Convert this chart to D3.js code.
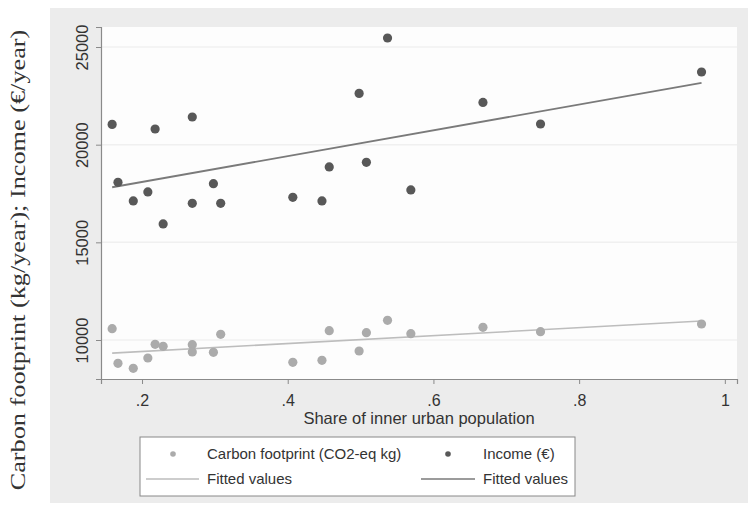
<!DOCTYPE html>
<html><head><meta charset="utf-8">
<script src="https://cdn.jsdelivr.net/npm/d3@7"></script>
<style>html,body{margin:0;padding:0;background:#fff;}svg{display:block;}</style>
</head><body><svg id="c" width="748" height="514"></svg>
<script>
const shareX = [0.159,0.167,0.188,0.208,0.218,0.229,0.269,0.269,0.298,0.308,0.407,0.447,0.457,0.498,0.508,0.537,0.569,0.668,0.747,0.968];
const carbon = [10578,8807,8552,9079,9778,9677,9760,9386,9370,10290,8859,8960,10476,9437,10374,11008,10324,10650,10425,10819];
const income = [21039,18070,17118,17579,20803,15942,21417,16996,18004,16996,17303,17118,18859,22626,19094,25461,17682,22165,21059,23721];
const xTicks = [0.2,0.4,0.6,0.8,1];
const yTicks = [10000,15000,20000,25000];
const legendLabels = ["Carbon footprint (CO2-eq kg)","Income (€)","Fitted values","Fitted values"];
const xTitle = "Share of inner urban population";
const yTitle = "Carbon footprint (kg/year); Income (€/year)";

const svg = d3.select("#c");
const L=101, R=737, T=27, B=379;
svg.append("rect").attr("x",50).attr("y",8).attr("width",698).attr("height",495).attr("fill","#ececec");
svg.append("rect").attr("x",L).attr("y",T).attr("width",R-L).attr("height",B-T).attr("fill","#fdfdfd");

const x = d3.scaleLinear().domain([0.1437,1.0167]).range([L,R]);
const y = d3.scaleLinear().domain([8004,26024]).range([B,T]);

// gridlines
svg.append("g").selectAll("line").data(yTicks).join("line")
  .attr("x1",L).attr("x2",R).attr("y1",d=>y(d)).attr("y2",d=>y(d))
  .attr("stroke","#f0f0f0").attr("stroke-width",1.5);

// axes
const ax = svg.append("g").attr("transform",`translate(0,${B})`)
  .call(d3.axisBottom(x).tickValues(xTicks).tickSize(5).tickPadding(11)
  .tickFormat(d=> d===1 ? "1" : d3.format(".1f")(d).replace(/^0/,"")));
const ay = svg.append("g").attr("transform",`translate(${L},0)`)
  .call(d3.axisLeft(y).tickValues(yTicks).tickSize(5).tickFormat(d3.format("d")));
[ax,ay].forEach(a=>{
  a.select(".domain").attr("stroke","#8a8a8a").attr("stroke-width",1.2);
  a.selectAll(".tick line").attr("stroke","#8a8a8a");
  a.selectAll("text").attr("fill","#333").style("font-family","'Liberation Sans',Arial,sans-serif").style("font-size","16px");
});
ay.selectAll(".tick text").each(function(){
  d3.select(this).attr("transform","translate(-19,0) rotate(-90)").attr("x",0).attr("y",0)
    .attr("text-anchor","middle").attr("dy","0.35em").style("font-size","16.5px");
});

// fits
function ols(xs, ys){
  const mx=d3.mean(xs), my=d3.mean(ys);
  let sxy=0,sxx=0; xs.forEach((v,i)=>{sxy+=(v-mx)*(ys[i]-my); sxx+=(v-mx)*(v-mx);});
  const b=sxy/sxx, a=my-b*mx;
  const [x0,x1]=d3.extent(xs);
  return [[x0,a+b*x0],[x1,a+b*x1]];
}
const line = d3.line().x(d=>x(d[0])).y(d=>y(d[1]));
svg.append("path").attr("d",line(ols(shareX,carbon))).attr("stroke","#bdbdbd").attr("stroke-width",1.6).attr("fill","none");
svg.append("path").attr("d",line(ols(shareX,income))).attr("stroke","#7a7a7a").attr("stroke-width",1.8).attr("fill","none");

// points
svg.append("g").selectAll("circle").data(shareX).join("circle")
  .attr("cx",d=>x(d)).attr("cy",(d,i)=>y(carbon[i])).attr("r",4.6).attr("fill","#ababab");
svg.append("g").selectAll("circle").data(shareX).join("circle")
  .attr("cx",d=>x(d)).attr("cy",(d,i)=>y(income[i])).attr("r",4.6).attr("fill","#585858");

// titles
svg.append("text").attr("x",419).attr("y",424).attr("text-anchor","middle")
  .style("font-family","'Liberation Sans',Arial,sans-serif").style("font-size","16.5px").attr("fill","#333").text(xTitle);
svg.append("text").attr("transform","translate(18,260) rotate(-90) scale(1.25,1)").attr("text-anchor","middle").attr("dy","0.33em")
  .style("font-family","'Liberation Serif','Times New Roman',serif").style("font-size","21px").attr("fill","#333").text(yTitle);

// legend
const lg = svg.append("g");
lg.append("rect").attr("x",140).attr("y",437).attr("width",435).attr("height",59).attr("fill","#fff").attr("stroke","#888").attr("stroke-width",1);
const fontL = {"font-family":"'Liberation Sans',Arial,sans-serif","font-size":"15px"};
lg.append("circle").attr("cx",173).attr("cy",454).attr("r",2.8).attr("fill","#ababab");
lg.append("circle").attr("cx",448).attr("cy",454).attr("r",2.8).attr("fill","#585858");
lg.append("line").attr("x1",146).attr("x2",199).attr("y1",479).attr("y2",479).attr("stroke","#bdbdbd").attr("stroke-width",1.4);
lg.append("line").attr("x1",421).attr("x2",475).attr("y1",479).attr("y2",479).attr("stroke","#7a7a7a").attr("stroke-width",1.4);
const pos=[[207,454],[483,454],[207,479],[483,479]];
legendLabels.forEach((t,i)=>{
  const tx=lg.append("text").attr("x",pos[i][0]).attr("y",pos[i][1]).attr("dy","0.35em").attr("fill","#333").text(t);
  Object.entries(fontL).forEach(([k,v])=>tx.style(k,v));
});
</script></body></html>
